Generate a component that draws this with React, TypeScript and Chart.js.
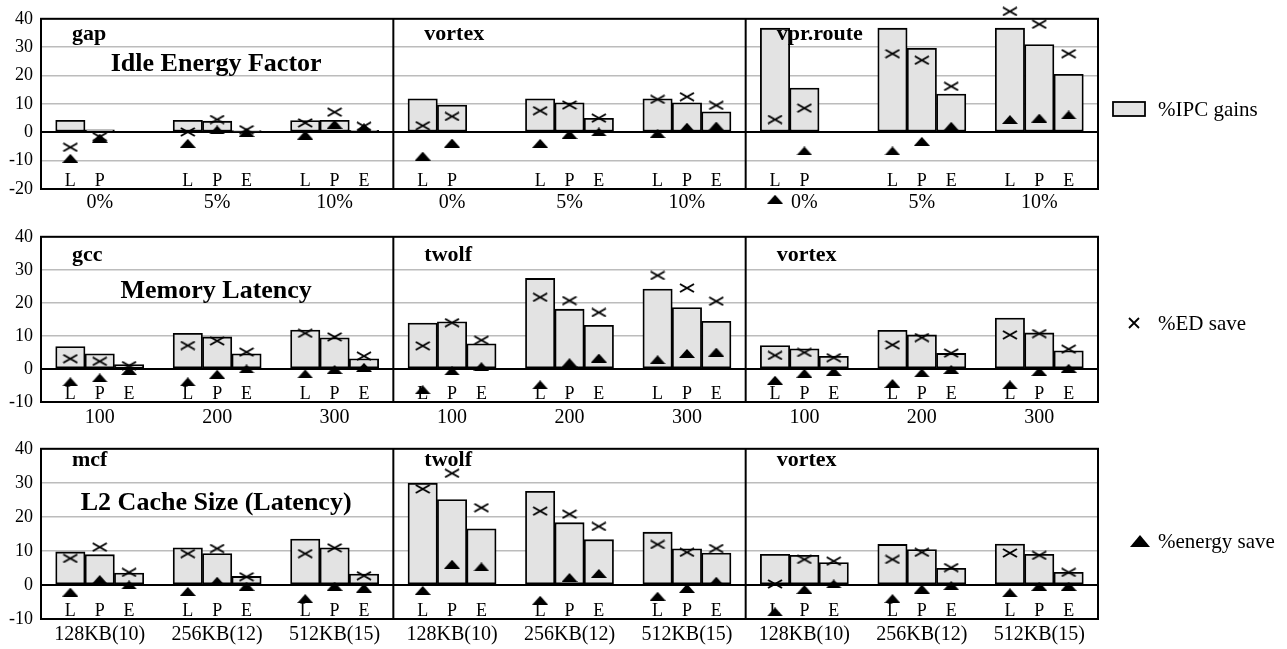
import React, { useEffect, useRef } from "react";
import { Chart, registerables } from "chart.js";

Chart.register(...registerables);

// ---------- DATA ----------
const SLOT_LABELS = ["L", "P", "E"];
const LEGEND_LABELS = ["%IPC gains", "%ED save", "%energy save"];

// Row 1: Idle Energy Factor (groups: gap 0/5/10, vortex 0/5/10, vpr.route 0/5/10; slots L,P,E)
const idleTitle = "Idle Energy Factor";
const idleBenchmarks = ["gap", "vortex", "vpr.route"];
const idleCategories = ["0%", "5%", "10%", "0%", "5%", "10%", "0%", "5%", "10%"];
const idleIpc = [
  4.2, 0.9, null, 4.2, 3.9, 0.6, 4.1, 4.2, 0.7,
  11.8, 9.6, null, 11.8, 10.4, 4.9, 11.8, 10.4, 7.2,
  36.7, 15.6, null, 36.7, 29.6, 13.5, 36.7, 30.9, 20.4,
];
const idleEd = [
  -5.3, -1.6, null, 0.1, 4.5, 0.9, 3.3, 7.1, 2.1,
  2.3, 5.6, null, 7.6, 9.6, 5.0, 11.6, 12.5, 9.5,
  4.5, 8.5, null, 27.7, 25.4, 16.2, 42.6, 38.1, 27.7,
];
const idleEnergy = [
  -9.2, -2.1, null, -3.9, 0.8, -0.1, -1.0, 2.8, 1.6,
  -8.4, -3.8, null, -3.9, -0.8, 0.1, -0.5, 1.8, 2.2,
  -23.6, -6.6, null, -6.6, -3.2, 2.1, 4.5, 5.0, 6.1,
];

// Row 2: Memory Latency
const memTitle = "Memory Latency";
const memBenchmarks = ["gcc", "twolf", "vortex"];
const memCategories = ["100", "200", "300", "100", "200", "300", "100", "200", "300"];
const memIpc = [
  6.8, 4.6, 1.3, 10.8, 9.7, 4.6, 11.8, 9.4, 3.1,
  13.9, 14.3, 7.6, 27.4, 18.1, 13.2, 24.2, 18.6, 14.4,
  7.1, 6.1, 3.8, 11.7, 10.3, 4.7, 15.4, 10.9, 5.5,
];
const memEd = [
  3.1, 2.3, 1.0, 7.1, 8.5, 5.1, 10.8, 9.7, 3.9,
  7.0, 14.0, 8.7, 21.7, 20.7, 17.1, 28.3, 24.5, 20.5,
  4.1, 5.0, 3.4, 7.3, 9.5, 4.8, 10.3, 10.7, 6.0,
];
const memEnergy = [
  -3.9, -2.7, -0.5, -3.9, -1.6, 0.0, -1.5, -0.2, 0.5,
  -6.3, -0.6, 0.7, -4.8, 1.9, 3.3, 2.8, 4.7, 5.1,
  -3.4, -1.3, -0.8, -4.4, -1.2, -0.2, -4.8, -0.8, 0.2,
];

// Row 3: L2 Cache Size (Latency)
const l2Title = "L2 Cache Size (Latency)";
const l2Benchmarks = ["mcf", "twolf", "vortex"];
const l2Categories = [
  "128KB(10)", "256KB(12)", "512KB(15)",
  "128KB(10)", "256KB(12)", "512KB(15)",
  "128KB(10)", "256KB(12)", "512KB(15)",
];
const l2Ipc = [
  9.7, 8.9, 3.5, 10.9, 9.2, 2.5, 13.5, 10.9, 3.2,
  29.9, 25.1, 16.5, 27.5, 18.3, 13.3, 15.5, 10.6, 9.4,
  9.0, 8.7, 6.6, 11.9, 10.4, 4.9, 12.0, 9.0, 3.7,
];
const l2Ed = [
  7.8, 11.1, 3.7, 9.2, 10.7, 2.4, 9.2, 10.9, 2.7,
  28.2, 32.8, 22.7, 21.7, 20.8, 17.2, 11.9, 9.6, 10.7,
  0.3, 7.5, 7.0, 7.5, 9.6, 5.1, 9.4, 8.7, 3.7,
];
const l2Energy = [
  -2.1, 1.6, 0.0, -1.9, 1.1, -0.4, -4.0, -0.4, -0.9,
  -1.6, 6.1, 5.3, -4.5, 2.2, 3.4, -3.3, -1.0, 1.1,
  -7.9, -1.3, 0.3, -4.0, -1.2, -0.2, -2.3, -0.4, -0.4,
];

const yMinValues = [-20, -10, -10];
const yMaxValue = 40;

const ROWS = [
  { title: idleTitle, benchmarks: idleBenchmarks, categories: idleCategories, ipc: idleIpc, ed: idleEd, energy: idleEnergy, yMin: yMinValues[0] },
  { title: memTitle, benchmarks: memBenchmarks, categories: memCategories, ipc: memIpc, ed: memEd, energy: memEnergy, yMin: yMinValues[1] },
  { title: l2Title, benchmarks: l2Benchmarks, categories: l2Categories, ipc: l2Ipc, ed: l2Ed, energy: l2Energy, yMin: yMinValues[2] },
];

// ---------- LAYOUT / STYLE ----------
const W = 1287;
const LAYOUT = [
  { top: 0, height: 218, padTop: 15, axisH: 29, tickPad: 2, benchBase: 21, titleBase: 52, legendY: 109 },
  { top: 218, height: 212, padTop: 11, axisH: 28, tickPad: 4, benchBase: 24.5, titleBase: 61, legendY: 323 },
  { top: 430, height: 219, padTop: 16, axisH: 30, tickPad: 4, benchBase: 17.5, titleBase: 61, legendY: 541 },
];
const FONT = '"Liberation Serif", "Times New Roman", serif';
const BAR_FILL = "#e3e3e3";
const GRID = "#bcbcbc";

const GROUP_CENTERS = [2, 6, 10, 14, 18, 22, 26, 30, 34];
const slotX = (i: number) => 4 * Math.floor(i / 3) + 1 + (i % 3);
const toPoints = (vals: (number | null)[]) =>
  vals
    .map((v, i) => (v === null ? null : { x: slotX(i), y: v }))
    .filter((p) => p !== null) as { x: number; y: number }[];

function makeCanvas(w: number, h: number, draw: (c: CanvasRenderingContext2D) => void) {
  const cv = document.createElement("canvas");
  cv.width = w;
  cv.height = h;
  const c = cv.getContext("2d")!;
  draw(c);
  return cv;
}

function makeMarkers() {
  const cross = makeCanvas(16, 10, (c) => {
    c.strokeStyle = "#000";
    c.lineWidth = 2;
    c.beginPath();
    c.moveTo(1, 1);
    c.lineTo(15, 9);
    c.moveTo(15, 1);
    c.lineTo(1, 9);
    c.stroke();
  });
  const tri = makeCanvas(16, 9, (c) => {
    c.fillStyle = "#000";
    c.beginPath();
    c.moveTo(0, 9);
    c.lineTo(8, 0);
    c.lineTo(16, 9);
    c.closePath();
    c.fill();
  });
  const legCross = makeCanvas(12, 12, (c) => {
    c.strokeStyle = "#000";
    c.lineWidth = 1.8;
    c.beginPath();
    c.moveTo(1, 1);
    c.lineTo(11, 11);
    c.moveTo(11, 1);
    c.lineTo(1, 11);
    c.stroke();
  });
  const legTri = makeCanvas(20, 12, (c) => {
    c.fillStyle = "#000";
    c.beginPath();
    c.moveTo(0, 12);
    c.lineTo(10, 0);
    c.lineTo(20, 12);
    c.closePath();
    c.fill();
  });
  return { cross, tri, legCross, legTri };
}

function RowChart({ index }: { index: number }) {
  const ref = useRef<HTMLCanvasElement | null>(null);
  const row = ROWS[index];
  const lay = LAYOUT[index];

  useEffect(() => {
    if (!ref.current) return;
    const m = makeMarkers();

    const decor = {
      id: "decor" + index,
      beforeDatasetsDraw(chart: any) {
        const { ctx, chartArea, scales } = chart;
        ctx.save();
        ctx.font = `18px ${FONT}`;
        ctx.fillStyle = "#000";
        ctx.textAlign = "center";
        ctx.textBaseline = "alphabetic";
        row.ipc.forEach((v, i) => {
          if (v === null) return;
          const x = scales.x.getPixelForValue(slotX(i));
          ctx.fillText(SLOT_LABELS[i % 3], x, chartArea.bottom - 3);
        });
        ctx.restore();
      },
      afterDatasetsDraw(chart: any) {
        const { ctx, chartArea, scales } = chart;
        const xs = scales.x;
        ctx.save();
        // panel dividers
        ctx.strokeStyle = "#000";
        ctx.lineWidth = 2;
        [12, 24].forEach((v) => {
          const x = xs.getPixelForValue(v);
          ctx.beginPath();
          ctx.moveTo(x, chartArea.top);
          ctx.lineTo(x, chartArea.bottom);
          ctx.stroke();
        });
        // frame
        ctx.strokeRect(chartArea.left, chartArea.top, chartArea.right - chartArea.left, chartArea.bottom - chartArea.top);
        // benchmark names
        ctx.fillStyle = "#000";
        ctx.textAlign = "left";
        ctx.textBaseline = "alphabetic";
        ctx.font = `bold 22px ${FONT}`;
        row.benchmarks.forEach((b, p) => {
          const x = xs.getPixelForValue(p * 12) + 31;
          ctx.fillText(b, x, chartArea.top + lay.benchBase);
        });
        // row title
        ctx.font = `bold 26px ${FONT}`;
        ctx.textAlign = "center";
        ctx.fillText(row.title, xs.getPixelForValue(6) - 1, chartArea.top + lay.titleBase);
        // legend item
        const ly = lay.legendY - lay.top;
        ctx.font = `21px ${FONT}`;
        ctx.textAlign = "left";
        ctx.textBaseline = "middle";
        if (index === 0) {
          ctx.fillStyle = BAR_FILL;
          ctx.fillRect(1113, ly - 7, 32, 14);
          ctx.lineWidth = 1.8;
          ctx.strokeStyle = "#000";
          ctx.strokeRect(1113, ly - 7, 32, 14);
        } else if (index === 1) {
          ctx.drawImage(m.legCross, 1134 - 6, ly - 6);
        } else {
          ctx.drawImage(m.legTri, 1140 - 10, ly - 6);
        }
        ctx.fillStyle = "#000";
        ctx.fillText(LEGEND_LABELS[index], 1158, ly + 1);
        ctx.restore();
      },
    };

    const chart = new Chart(ref.current, {
      type: "bar",
      data: {
        datasets: [
          {
            type: "bar",
            label: LEGEND_LABELS[0],
            data: toPoints(row.ipc),
            backgroundColor: BAR_FILL,
            borderColor: "#000",
            borderWidth: 1.8,
            borderSkipped: false,
            barPercentage: 1,
            categoryPercentage: 1,
            order: 3,
          } as any,
          {
            type: "scatter",
            label: LEGEND_LABELS[1],
            data: toPoints(row.ed),
            pointStyle: m.cross,
            radius: 14,
            hoverRadius: 14,
            borderWidth: 0,
            clip: false,
            order: 2,
          } as any,
          {
            type: "scatter",
            label: LEGEND_LABELS[2],
            data: toPoints(row.energy),
            pointStyle: m.tri,
            radius: 14,
            hoverRadius: 14,
            borderWidth: 0,
            clip: false,
            order: 1,
          } as any,
        ],
      },
      options: {
        animation: false,
        responsive: false,
        events: [],
        layout: { padding: { top: lay.padTop, right: W - 1098, bottom: 0, left: 0 } },
        plugins: { legend: { display: false }, tooltip: { enabled: false }, title: { display: false } },
        scales: {
          x: {
            type: "linear",
            min: 0,
            max: 36,
            offset: false,
            grid: { display: false, drawTicks: false },
            border: { display: false },
            afterBuildTicks: (s: any) => {
              s.ticks = GROUP_CENTERS.map((v) => ({ value: v }));
            },
            afterFit: (s: any) => {
              s.height = lay.axisH;
            },
            ticks: {
              autoSkip: false,
              maxRotation: 0,
              minRotation: 0,
              padding: lay.tickPad,
              color: "#000",
              font: { family: FONT, size: 20 },
              callback: (_v: any, i: number) => row.categories[i],
            },
          },
          y: {
            type: "linear",
            min: row.yMin,
            max: yMaxValue,
            grid: {
              drawTicks: false,
              color: (c: any) => (c.tick && c.tick.value === 0 ? "#000" : GRID),
              lineWidth: (c: any) => (c.tick && c.tick.value === 0 ? 2 : 1.5),
            },
            border: { display: false },
            afterFit: (s: any) => {
              s.width = 41;
            },
            ticks: {
              stepSize: 10,
              padding: 8,
              color: "#000",
              font: { family: FONT, size: 18 },
            },
          },
        },
      } as any,
      plugins: [decor as any],
    });
    return () => chart.destroy();
  }, [index]);

  return (
    <canvas
      ref={ref}
      width={W}
      height={lay.height}
      style={{ position: "absolute", left: 0, top: lay.top, width: W, height: lay.height, display: "block" }}
    />
  );
}

export default function App() {
  return (
    <div style={{ position: "absolute", left: 0, top: 0, width: W, height: 649, background: "#fff", overflow: "hidden" }}>
      <RowChart index={0} />
      <RowChart index={1} />
      <RowChart index={2} />
    </div>
  );
}
